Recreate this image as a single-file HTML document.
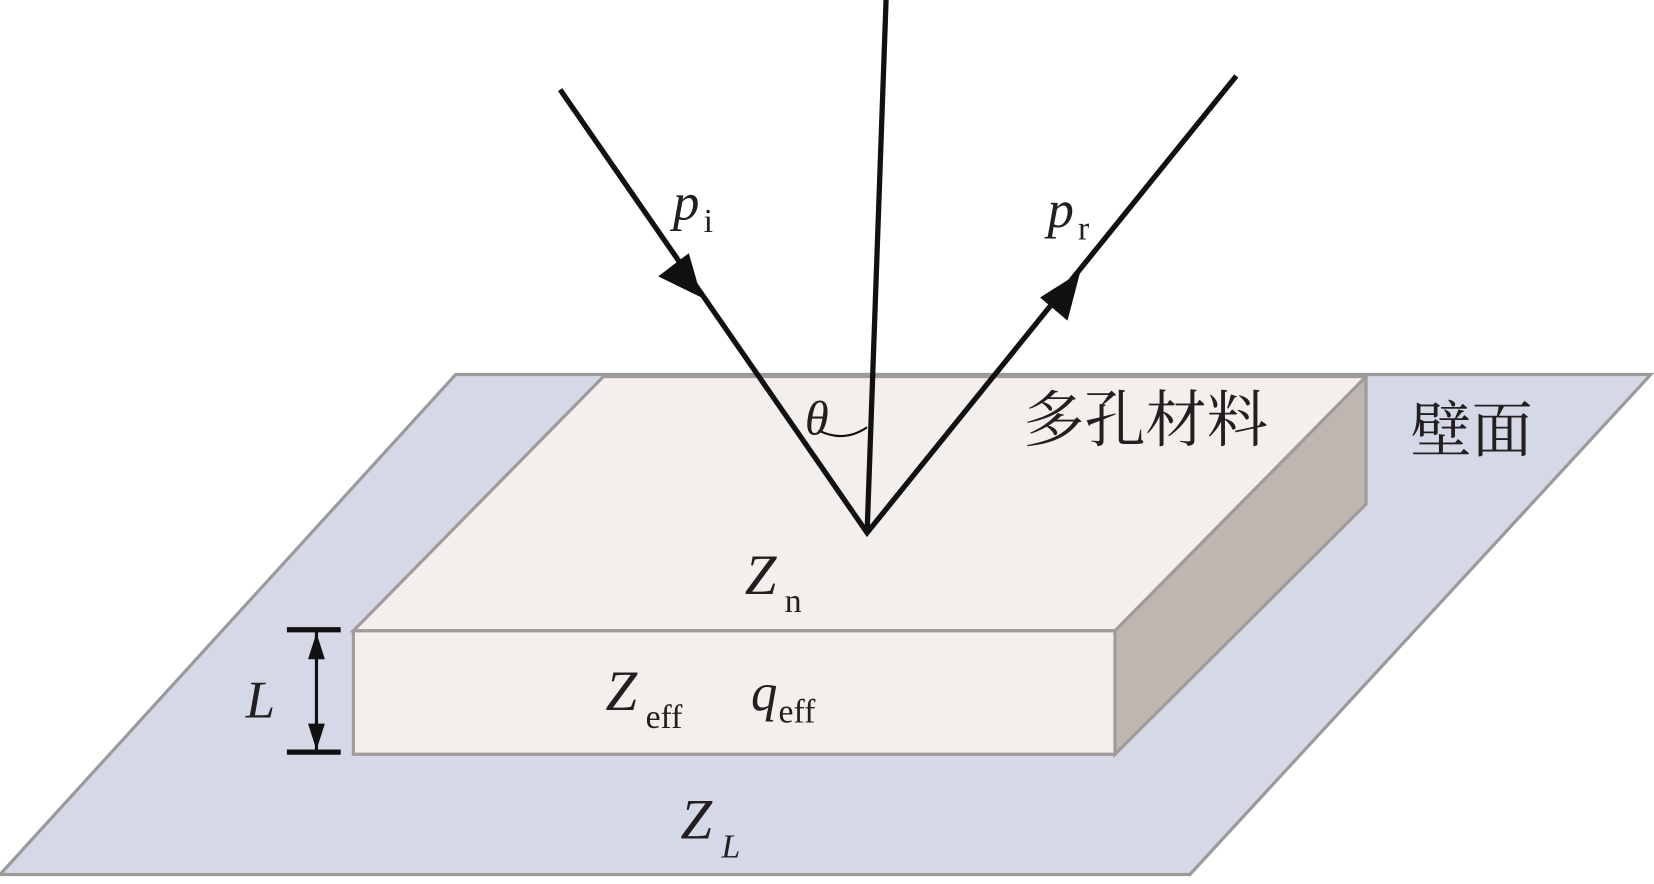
<!DOCTYPE html>
<html><head><meta charset="utf-8"><style>
html,body{margin:0;padding:0;background:#fff;}
svg{display:block;}
text{font-family:"Liberation Serif","Noto Serif CJK SC",serif;fill:#231f20;}
</style></head><body>
<svg width="1654" height="884" viewBox="0 0 1568 838" preserveAspectRatio="none" xmlns="http://www.w3.org/2000/svg">
<polygon points="432,355 1565,355 1128,829 0,829" fill="#d5d9e7" stroke="#9a9a9a" stroke-width="3"/>
<polygon points="572,357 1295,357 1057,598 335,598" fill="#f2efec" stroke="#a09a98" stroke-width="3"/>
<polygon points="1057,598 1295,357 1295,478 1057,715" fill="#bfb6b1" stroke="#a09a98" stroke-width="3"/>
<polygon points="335,598 1057,598 1057,715 335,715" fill="#f2efec" stroke="#a09a98" stroke-width="3"/>
<g stroke="#111" stroke-width="5" fill="none">
<line x1="840" y1="0" x2="822" y2="505"/>
<polyline points="531,85 822,505 1172,72"/>
<path d="M776,408 Q800,420 822,405" stroke-width="2"/>
<line x1="300" y1="598" x2="300" y2="713" stroke-width="3"/>
<line x1="272" y1="597" x2="323" y2="597"/>
<line x1="272" y1="713" x2="323" y2="713"/>
</g>
<polygon points="665,282 624,262 653,240" fill="#111"/>
<polygon points="1024,258 1012,304 986,282" fill="#111"/>
<polygon points="300,600 292,625 308,625" fill="#111"/>
<polygon points="300,711 292,686 308,686" fill="#111"/>
<text x="638" y="208" font-size="50" font-style="italic">p</text>
<text x="667" y="220" font-size="32">i</text>
<text x="993" y="215" font-size="50" font-style="italic">p</text>
<text x="1022" y="227" font-size="32">r</text>
<text x="763" y="412" font-size="46" font-style="italic">θ</text>
<text x="970" y="418" font-size="58">多孔材料</text>
<text x="1337" y="428" font-size="58">壁面</text>
<text x="706" y="563" font-size="54" font-style="italic">Z</text>
<text x="744" y="580" font-size="32">n</text>
<text x="574" y="673" font-size="54" font-style="italic">Z</text>
<text x="612" y="690" font-size="32">eff</text>
<text x="712" y="673" font-size="50" font-style="italic">q</text>
<text x="738" y="685" font-size="32">eff</text>
<text x="233" y="680" font-size="50" font-style="italic">L</text>
<text x="645" y="795" font-size="54" font-style="italic">Z</text>
<text x="684" y="813" font-size="32" font-style="italic">L</text>
</svg>
</body></html>
